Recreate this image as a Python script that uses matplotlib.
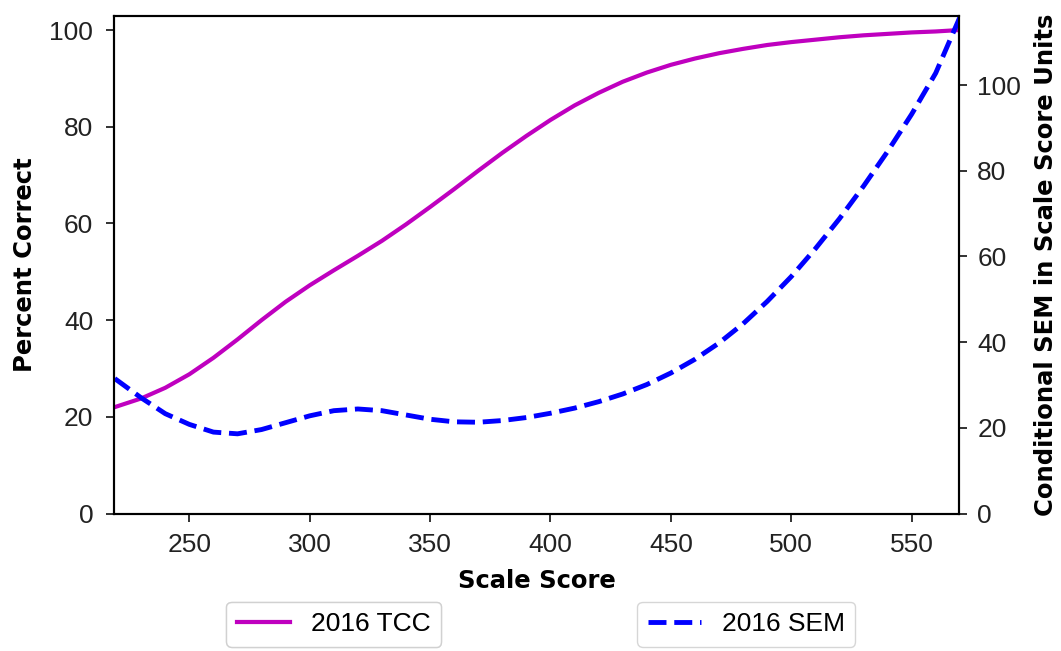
import matplotlib
matplotlib.use("Agg")
import matplotlib.pyplot as plt

scale_score = [219, 230, 240, 250, 260, 270, 280, 290, 300, 310, 320, 330, 340, 350,
               360, 370, 380, 390, 400, 410, 420, 430, 440, 450, 460, 470, 480, 490,
               500, 510, 520, 530, 540, 550, 560, 570]
tcc_2016 = [22.0, 23.8, 26.0, 28.8, 32.2, 36.0, 40.0, 43.8, 47.2, 50.3, 53.3, 56.4, 59.8,
            63.4, 67.1, 70.9, 74.6, 78.1, 81.4, 84.4, 87.0, 89.3, 91.2, 92.8, 94.1, 95.2,
            96.1, 96.9, 97.5, 98.0, 98.5, 98.9, 99.2, 99.5, 99.7, 100.0]
sem_2016 = [31.5, 27.0, 23.3, 20.8, 19.0, 18.6, 19.6, 21.2, 22.8, 24.0, 24.4, 24.0, 23.0,
            22.0, 21.4, 21.3, 21.7, 22.4, 23.4, 24.6, 26.1, 27.9, 30.1, 32.8, 36.0, 39.8,
            44.3, 49.5, 55.3, 61.8, 68.8, 76.4, 84.5, 93.2, 102.8, 115.8]
x_ticks = [250, 300, 350, 400, 450, 500, 550]
left_ticks = [0, 20, 40, 60, 80, 100]
right_ticks = [0, 20, 40, 60, 80, 100]

TICK_FONT = "Liberation Sans"

fig = plt.figure(figsize=(10.61, 6.51), dpi=100)
ax = fig.add_axes([114/1061, 1-513.5/651, (959.3-114)/1061, (513.5-15.7)/651])
ax2 = ax.twinx()

l1, = ax.plot(scale_score, tcc_2016, color="#BF00BF", lw=3.0, label="2016 TCC")
l2, = ax2.plot(scale_score, sem_2016, color="#0000FF", lw=3.5, ls="--", label="2016 SEM")

ax.set_xlim(218.7, 569.8)
ax.set_ylim(0, 102.96)
ax2.set_ylim(0, 116.2)
ax.set_xticks(x_ticks)
ax.set_yticks(left_ticks)
ax2.set_yticks(right_ticks)

for a in (ax, ax2):
    for s in a.spines.values():
        s.set_linewidth(1.5)
    a.tick_params(labelsize=19, width=1.3, length=6, colors="#222222")
    for lab in a.get_xticklabels() + a.get_yticklabels():
        lab.set_fontfamily(TICK_FONT)
ax.tick_params(axis="x", pad=8)
ax.tick_params(axis="y", pad=9)
ax2.tick_params(axis="y", pad=7)

ax.set_xlabel("Scale Score", fontsize=17.5, fontweight="bold", labelpad=9)
ax.set_ylabel("Percent Correct", fontsize=17.5, fontweight="bold", labelpad=9)
ax2.set_ylabel("Conditional SEM in Scale Score Units", fontsize=17.5, fontweight="bold", labelpad=9)

leg1 = ax.legend(handles=[l1], loc="upper center", bbox_to_anchor=(0.26, -0.177),
                 prop={"family": TICK_FONT, "size": 19}, handlelength=2.0, borderaxespad=0)
ax.add_artist(leg1)
leg2 = ax2.legend(handles=[l2], loc="upper center", bbox_to_anchor=(0.748, -0.177),
                  prop={"family": TICK_FONT, "size": 19}, handlelength=2.0, borderaxespad=0)

fig.savefig("out.png", dpi=100)
